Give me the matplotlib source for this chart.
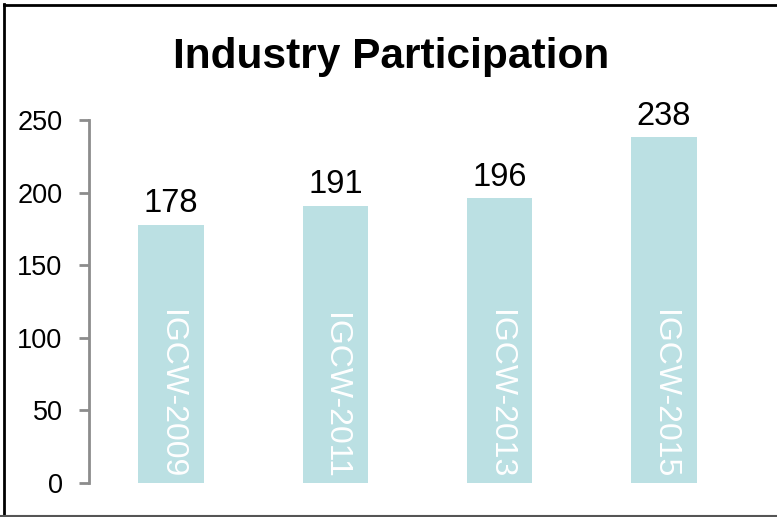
import matplotlib
matplotlib.use("Agg")
import matplotlib.pyplot as plt
from matplotlib.lines import Line2D

plt.rcParams["font.family"] = ["Liberation Sans", "DejaVu Sans"]

# ---------------------------------------------------------------------------
# data
# ---------------------------------------------------------------------------
categories = ["IGCW-2009", "IGCW-2011", "IGCW-2013", "IGCW-2015"]
participants = [178, 191, 196, 238]
y_ticks = [0, 50, 100, 150, 200, 250]

BAR_COLOR = "#BBE0E3"
AXIS_GRAY = "#8C8C8C"

W, H = 777, 517
fig = plt.figure(figsize=(W / 100, H / 100), dpi=100)
ax = fig.add_axes([89 / W, 1 - 483 / H, (746 - 89) / W, (483 - 120) / H])

x = range(len(categories))
ax.bar(x, participants, width=0.4, color=BAR_COLOR)

ax.set_xlim(-0.5, len(categories) - 0.5)
ax.set_ylim(0, 250)
ax.set_yticks(y_ticks)
ax.set_xticks([])

for side in ("top", "right", "bottom"):
    ax.spines[side].set_visible(False)
ax.spines["left"].set_color(AXIS_GRAY)
ax.spines["left"].set_linewidth(2)
ax.tick_params(axis="y", direction="out", length=7, width=2,
               color=AXIS_GRAY, labelsize=19.5, pad=12)

# value labels above bars, category labels inside bars
for xi, (cat, val) in enumerate(zip(categories, participants)):
    ax.text(xi, val + 4, str(val), ha="center", va="bottom", fontsize=23.5)
    ax.text(xi, 3, cat, rotation=270, ha="center", va="bottom",
            fontsize=23, color="white")

fig.text(0.503, 1 - 57 / H, "Industry Participation", ha="center", va="center",
         fontsize=30.5, fontweight="bold")

# outer frame
fig.add_artist(Line2D([4 / W, 4 / W], [0, 1 - 4 / H], transform=fig.transFigure,
                      color="black", lw=2))
fig.add_artist(Line2D([4 / W, 1], [1 - 5 / H, 1 - 5 / H], transform=fig.transFigure,
                      color="black", lw=2))
fig.add_artist(Line2D([0, 1], [1.5 / H, 1.5 / H], transform=fig.transFigure,
                      color="#555555", lw=1.5))

fig.savefig("out.png", dpi=100)
